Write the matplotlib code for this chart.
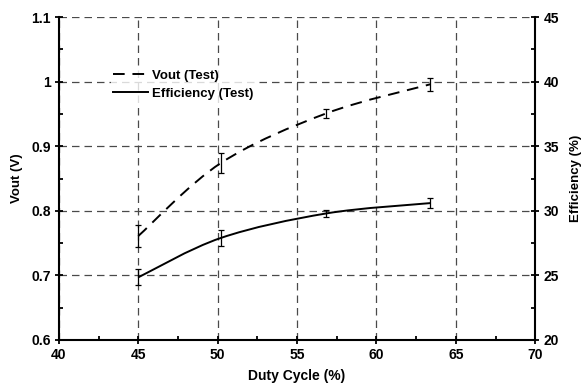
import numpy as np
import matplotlib
matplotlib.use("Agg")
import matplotlib.pyplot as plt
from matplotlib.path import Path
from matplotlib.patches import PathPatch
from matplotlib.ticker import MultipleLocator

plt.rcParams['font.family'] = 'Liberation Sans'
plt.rcParams['font.weight'] = 'bold'
plt.rcParams['axes.labelweight'] = 'bold'

# data
duty = [45.0, 50.2, 56.85, 63.4]
vout = [0.761, 0.874, 0.951, 0.996]
vout_err = [0.017, 0.015, 0.007, 0.010]
eff = [24.85, 27.9, 29.8, 30.6]
eff_err = [0.63, 0.6, 0.3, 0.4]

x_ticks = [40, 45, 50, 55, 60, 65, 70]
vout_ticks = [0.6, 0.7, 0.8, 0.9, 1.0, 1.1]
vout_labels = ['0.6', '0.7', '0.8', '0.9', '1', '1.1']
eff_ticks = [20, 25, 30, 35, 40, 45]


def smooth_path(x, y):
    # excel-style smoothed line as cubic bezier segments
    x = np.asarray(x); y = np.asarray(y)
    n = len(x)
    verts = [(x[0], y[0])]
    codes = [Path.MOVETO]
    for i in range(n - 1):
        xp, yp = (x[i - 1], y[i - 1]) if i > 0 else (x[i], y[i])
        xn, yn = (x[i + 2], y[i + 2]) if i + 2 < n else (x[i + 1], y[i + 1])
        c1 = (x[i] + (x[i + 1] - xp) / 6, y[i] + (y[i + 1] - yp) / 6)
        c2 = (x[i + 1] - (xn - x[i]) / 6, y[i + 1] - (yn - y[i]) / 6)
        verts += [c1, c2, (x[i + 1], y[i + 1])]
        codes += [Path.CURVE4] * 3
    return Path(verts, codes)


fig = plt.figure(figsize=(5.83, 3.89), dpi=100)
ax = fig.add_axes([0.101, 0.126, 0.817, 0.830])
ax2 = ax.twinx()

ax.grid(True, which='major', color='#4a4a4a', linestyle=(0, (6, 4)), linewidth=0.9)
ax.set_axisbelow(True)

ax.add_patch(PathPatch(smooth_path(duty, vout), fill=False, color='black',
                       linewidth=1.4, linestyle=(0, (6, 4))))
ax.errorbar(duty, vout, yerr=vout_err, fmt='none', ecolor='black',
            elinewidth=0.9, capsize=2.5, capthick=0.9)
ax2.add_patch(PathPatch(smooth_path(duty, eff), fill=False, color='black',
                        linewidth=1.4))
ax2.errorbar(duty, eff, yerr=eff_err, fmt='none', ecolor='black',
             elinewidth=0.9, capsize=2.5, capthick=0.9)

# legend proxies
ax.plot([], [], color='black', linewidth=1.4, linestyle=(0, (6, 4)), label='Vout (Test)')
ax.plot([], [], color='black', linewidth=1.4, label='Efficiency (Test)')
leg = ax.legend(loc='upper left', bbox_to_anchor=(0.095, 0.866), frameon=True,
                prop={'family': 'Liberation Sans', 'size': 9.5, 'weight': 'bold'},
                handlelength=2.6, handletextpad=0.35, labelspacing=0.45,
                borderpad=0.2, fancybox=False)
leg.get_frame().set_facecolor('white')
leg.get_frame().set_edgecolor('none')

ax.set_xticks(x_ticks, [str(t) for t in x_ticks], fontweight='bold', fontsize=10)
ax.set_yticks(vout_ticks, vout_labels, fontweight='bold', fontsize=10)
ax2.set_yticks(eff_ticks, [str(t) for t in eff_ticks], fontweight='bold', fontsize=10)
ax.xaxis.set_minor_locator(MultipleLocator(2.5))
ax.yaxis.set_minor_locator(MultipleLocator(0.05))
ax2.yaxis.set_minor_locator(MultipleLocator(2.5))

ax.set_xlim(40, 70)
ax.set_ylim(0.6, 1.1)
ax2.set_ylim(20, 45)

for a in (ax, ax2):
    a.tick_params(which='major', direction='inout', length=6, width=1.3, pad=3)
    a.tick_params(which='minor', direction='in', length=3, width=1.3)

ax.spines['top'].set_visible(False)
ax2.spines['top'].set_visible(False)
ax2.spines['left'].set_visible(False)
ax2.spines['bottom'].set_visible(False)
ax.spines['right'].set_visible(False)
for s in ('left', 'bottom'):
    ax.spines[s].set_linewidth(1.5)
ax2.spines['right'].set_linewidth(1.5)

ax.set_xlabel('Duty Cycle (%)', fontsize=10, fontweight='bold', labelpad=5)
ax.set_ylabel('Vout (V)', fontsize=9.5, fontweight='bold', labelpad=6)
ax2.set_ylabel('Efficiency (%)', fontsize=9.5, fontweight='bold', labelpad=8)

fig.savefig('out.png', dpi=100)
